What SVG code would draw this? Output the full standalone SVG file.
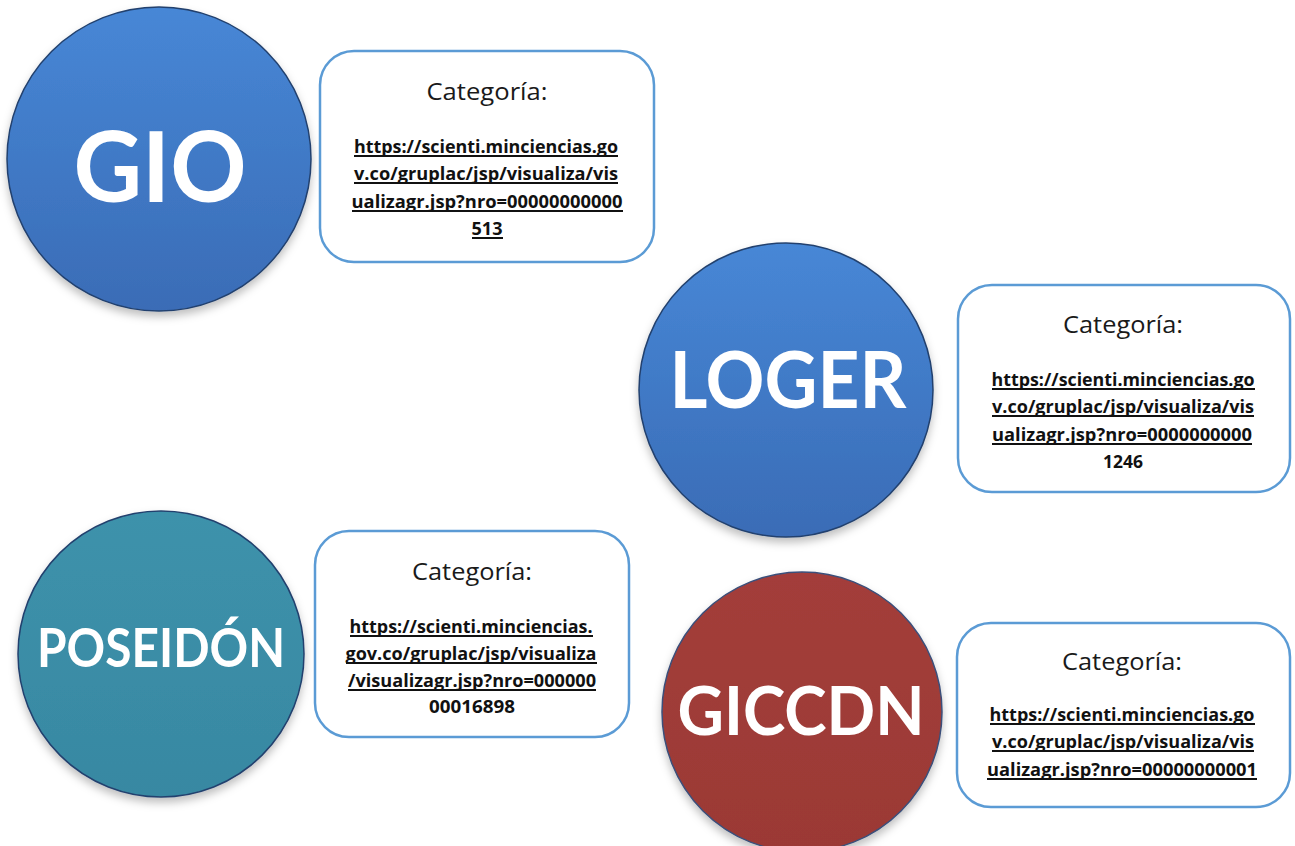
<svg xmlns="http://www.w3.org/2000/svg" width="1295" height="846" viewBox="0 0 1295 846">
<defs>
<linearGradient id="gBlue" x1="0" y1="0" x2="0" y2="1">
<stop offset="0" stop-color="#4787d6"/>
<stop offset="1" stop-color="#3a6cb6"/>
</linearGradient>
<linearGradient id="gTeal" x1="0" y1="0" x2="0" y2="1">
<stop offset="0" stop-color="#3d92ab"/>
<stop offset="1" stop-color="#3888a2"/>
</linearGradient>
<linearGradient id="gRed" x1="0" y1="0" x2="0" y2="1">
<stop offset="0" stop-color="#a33e3a"/>
<stop offset="1" stop-color="#9b3935"/>
</linearGradient>
<filter id="shadow" x="-20%" y="-20%" width="140%" height="150%">
<feDropShadow dx="0" dy="5" stdDeviation="4" flood-color="#000" flood-opacity="0.25"/>
</filter>
<style>
.disc{stroke:#22416e;stroke-width:1.5;filter:url(#shadow)}
.disc-red{stroke:#3b4f7a}
.name{font-family:Lato,"Open Sans","Liberation Sans",sans-serif;font-weight:700;fill:#ffffff;text-anchor:middle}
.box{fill:#ffffff;stroke:#5b9bd5;stroke-width:2.5}
.cat{font-family:"Open Sans",Lato,"Liberation Sans",sans-serif;font-size:24px;fill:#1a1a1a;text-anchor:middle}
.url{font-family:"Open Sans",Lato,"Liberation Sans",sans-serif;font-size:17px;font-weight:700;fill:#111111;text-anchor:middle;font-variant-ligatures:none}
.ul{stroke:#111111;stroke-width:2}
</style>
</defs>

<g id="connectors"></g>

<g id="node-gio">
<ellipse class="disc" cx="159" cy="159" rx="152" ry="152" fill="url(#gBlue)"/>
<text class="name" x="160" y="202" font-size="98" textLength="173" lengthAdjust="spacingAndGlyphs">GIO</text>
</g>
<g id="box-gio">
<rect class="box" x="320" y="51" width="334" height="211" rx="34"/>
<text class="cat" x="487" y="100" textLength="121" lengthAdjust="spacingAndGlyphs">Categoría:</text>
<text class="url" x="486" y="153" textLength="264" lengthAdjust="spacingAndGlyphs">https://scienti.minciencias.go</text>
<text class="url" x="486" y="180" textLength="264" lengthAdjust="spacingAndGlyphs">v.co/gruplac/jsp/visualiza/vis</text>
<text class="url" x="487" y="208" textLength="271" lengthAdjust="spacingAndGlyphs">ualizagr.jsp?nro=00000000000</text>
<text class="url" x="487" y="235" textLength="31" lengthAdjust="spacingAndGlyphs">513</text>
<line class="ul" x1="354" y1="156" x2="618" y2="156"/>
<line class="ul" x1="354" y1="183" x2="618" y2="183"/>
<line class="ul" x1="352" y1="211" x2="623" y2="211"/>
<line class="ul" x1="472" y1="238" x2="503" y2="238"/>
</g>

<g id="node-loger">
<circle class="disc" cx="786" cy="390" r="147" fill="url(#gBlue)"/>
<text class="name" x="788" y="408" font-size="78" textLength="237" lengthAdjust="spacingAndGlyphs">LOGER</text>
</g>
<g id="box-loger">
<rect class="box" x="958" y="285" width="332" height="207" rx="34"/>
<text class="cat" x="1123" y="333" textLength="120" lengthAdjust="spacingAndGlyphs">Categoría:</text>
<text class="url" x="1123" y="386" textLength="263" lengthAdjust="spacingAndGlyphs">https://scienti.minciencias.go</text>
<text class="url" x="1123" y="413" textLength="262" lengthAdjust="spacingAndGlyphs">v.co/gruplac/jsp/visualiza/vis</text>
<text class="url" x="1122" y="441" textLength="260" lengthAdjust="spacingAndGlyphs">ualizagr.jsp?nro=0000000000</text>
<text class="url" x="1123" y="468" textLength="40" lengthAdjust="spacingAndGlyphs">1246</text>
<line class="ul" x1="992" y1="389" x2="1255" y2="389"/>
<line class="ul" x1="992" y1="416" x2="1254" y2="416"/>
<line class="ul" x1="992" y1="444" x2="1252" y2="444"/>
</g>

<g id="node-poseidon">
<circle class="disc" cx="161" cy="654" r="143" fill="url(#gTeal)"/>
<text class="name" x="161" y="667" font-size="54" textLength="248" lengthAdjust="spacingAndGlyphs">POSEIDÓN</text>
</g>
<g id="box-poseidon">
<rect class="box" x="315" y="531" width="314" height="206" rx="34"/>
<text class="cat" x="472" y="580" textLength="120" lengthAdjust="spacingAndGlyphs">Categoría:</text>
<text class="url" x="471" y="633" textLength="243" lengthAdjust="spacingAndGlyphs">https://scienti.minciencias.</text>
<text class="url" x="471" y="660" textLength="251" lengthAdjust="spacingAndGlyphs">gov.co/gruplac/jsp/visualiza</text>
<text class="url" x="472" y="687" textLength="248" lengthAdjust="spacingAndGlyphs">/visualizagr.jsp?nro=000000</text>
<text class="url" x="472" y="713" textLength="86" lengthAdjust="spacingAndGlyphs">00016898</text>
<line class="ul" x1="350" y1="636" x2="593" y2="636"/>
<line class="ul" x1="346" y1="663" x2="597" y2="663"/>
<line class="ul" x1="348" y1="690" x2="596" y2="690"/>
</g>

<g id="node-giccdn">
<circle class="disc disc-red" cx="802" cy="712" r="140" fill="url(#gRed)"/>
<text class="name" x="801" y="735" font-size="67" textLength="247" lengthAdjust="spacingAndGlyphs">GICCDN</text>
</g>
<g id="box-giccdn">
<rect class="box" x="957" y="623" width="333" height="184" rx="34"/>
<text class="cat" x="1122" y="670" textLength="120" lengthAdjust="spacingAndGlyphs">Categoría:</text>
<text class="url" x="1122" y="721" textLength="265" lengthAdjust="spacingAndGlyphs">https://scienti.minciencias.go</text>
<text class="url" x="1123" y="748" textLength="262" lengthAdjust="spacingAndGlyphs">v.co/gruplac/jsp/visualiza/vis</text>
<text class="url" x="1122" y="776" textLength="270" lengthAdjust="spacingAndGlyphs">ualizagr.jsp?nro=00000000001</text>
<line class="ul" x1="990" y1="724" x2="1255" y2="724"/>
<line class="ul" x1="992" y1="751" x2="1254" y2="751"/>
<line class="ul" x1="987" y1="779" x2="1257" y2="779"/>
</g>
</svg>
